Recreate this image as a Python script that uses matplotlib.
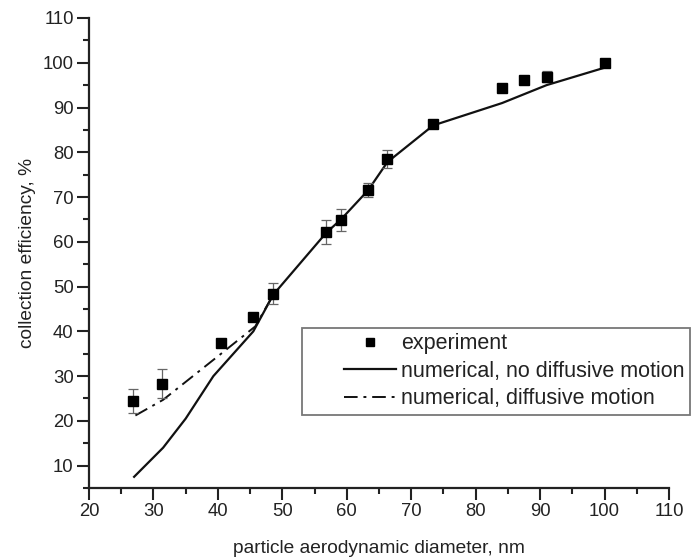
import numpy as np
import matplotlib.pyplot as plt
from matplotlib.lines import Line2D
from matplotlib.legend_handler import HandlerLine2D

plt.rcParams['font.family'] = ['Liberation Sans', 'DejaVu Sans']

# experimental points
exp_d = [26.9, 31.4, 40.5, 45.4, 48.6, 56.8, 59.1, 63.3, 66.3, 73.4, 84.1, 87.5, 91.0, 100.0]
exp_eff = [24.4, 28.3, 37.5, 43.1, 48.4, 62.2, 64.9, 71.6, 78.5, 86.3, 94.3, 96.1, 96.9, 100.0]
exp_err = [2.7, 3.2, 0.4, 0.8, 2.3, 2.7, 2.4, 1.6, 2.0, 0.4, 0.3, 0.3, 1.3, 0.3]

# numerical, no diffusive motion
num_d = [27.0, 31.5, 35.0, 39.3, 45.5, 48.6, 56.8, 59.1, 63.3, 66.3, 73.4, 84.1, 91.0, 100.0]
num_eff = [7.5, 14.0, 20.5, 30.0, 40.0, 48.2, 62.0, 65.0, 71.5, 77.8, 86.0, 91.0, 95.0, 98.9]

# numerical, diffusive motion
dif_d = [27.2, 31.5, 40.5, 45.8, 48.6]
dif_eff = [21.2, 24.7, 35.0, 41.1, 48.2]

labels = ['experiment', 'numerical, no diffusive motion', 'numerical, diffusive motion']
dashdot = (0, (7, 3, 1.5, 3))


class ShortHandler(HandlerLine2D):
    # draw the legend line only in the right part of the handle box
    def get_xdata(self, legend, xdescent, ydescent, width, height, fontsize):
        x0 = -xdescent + width * 0.42
        x1 = -xdescent + width
        return np.array([x0, x1]), np.array([(x0 + x1) / 2])


fig = plt.figure(figsize=(7, 5.6), dpi=100)
ax = fig.add_axes([89/700, 1-488/560, 580/700, 470/560])

ax.plot(num_d, num_eff, color='#111111', lw=1.6, label=labels[1])
ax.plot(dif_d, dif_eff, color='#111111', lw=1.4, linestyle=dashdot, label=labels[2])
ax.errorbar(exp_d, exp_eff, yerr=exp_err, fmt='none', ecolor='#666666',
            elinewidth=0.9, capsize=3.5, capthick=0.9)
ax.plot(exp_d, exp_eff, 's', color='black', ms=7.5, label=labels[0])

ax.set_xlim(20, 110)
ax.set_ylim(5, 110)
ax.set_xticks(np.arange(20, 111, 10))
ax.set_xticks(np.arange(25, 110, 10), minor=True)
ax.set_yticks(np.arange(10, 111, 10))
ax.set_yticks(np.arange(5, 110, 10), minor=True)

for s in ['top', 'right']:
    ax.spines[s].set_visible(False)
for s in ['left', 'bottom']:
    ax.spines[s].set_linewidth(1.6)
    ax.spines[s].set_color('#222222')
ax.tick_params(which='major', direction='out', length=8.5, width=1.5, labelsize=13.3,
               colors='#222222', pad=2.5)
ax.tick_params(which='minor', direction='out', length=4.5, width=1.5, colors='#222222')

ax.set_xlabel('particle aerodynamic diameter, nm', fontsize=13.8, color='#222222', labelpad=14)
ax.set_ylabel('collection efficiency, %', fontsize=13.8, color='#222222')
ax.yaxis.set_label_coords(-0.092, 0.5)

handles = [Line2D([], [], marker='s', ms=6, color='black', linestyle='none'),
           Line2D([], [], color='#111111', lw=1.6),
           Line2D([], [], color='#111111', lw=1.4, linestyle=dashdot)]
leg = ax.legend(handles, labels, loc='upper left',
                bbox_to_anchor=((302-89)/580, (488-328)/470),
                handler_map={Line2D: ShortHandler()},
                fontsize=15.5, handlelength=4.1, handletextpad=0.25, labelspacing=0.3,
                borderpad=0.25, borderaxespad=0, fancybox=False, framealpha=1,
                edgecolor='#777777')
leg.get_frame().set_linewidth(1.3)
for t in leg.get_texts():
    t.set_color('#222222')

fig.savefig('out.png', dpi=100)
